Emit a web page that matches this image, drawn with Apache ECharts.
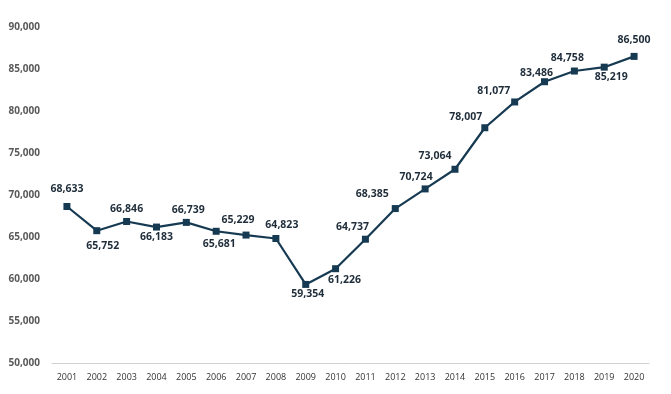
<!DOCTYPE html>
<html><head><meta charset="utf-8">
<script src="https://cdn.jsdelivr.net/npm/echarts@6/dist/echarts.min.js"></script>
<style>html,body{margin:0;padding:0;background:#fff}#c{width:671px;height:394px}</style>
</head><body><div id="c"></div>
<script>
const years = ['2001','2002','2003','2004','2005','2006','2007','2008','2009','2010','2011','2012','2013','2014','2015','2016','2017','2018','2019','2020'];
const values = [68633,65752,66846,66183,66739,65681,65229,64823,59354,61226,64737,68385,70724,73064,78007,81077,83486,84758,85219,86500];
const yTicks = {min: 50000, max: 90000, interval: 5000};

// label offsets (layout only)
const labelOffsets = [[0,-17],[6,15],[0,-12],[0,10],[2,-12],[3,13],[-8,-15],[6,-13],[2,10],[9,11],[-13,-12],[-23,-15],[-9,-12],[-20,-13],[-19,-11],[-21,-11],[-8,-9],[-7,-13],[7,10],[0,-16]];

const chart = echarts.init(document.getElementById('c'), null, {renderer:'canvas'});
const fmt = v => v.toLocaleString('en-US');
chart.setOption({
  animation:false,
  grid:{left:52,right:22,top:27,bottom:31},
  xAxis:{type:'category',data:years,boundaryGap:true,
    axisLine:{lineStyle:{color:'#d0d0d0',width:1}},axisTick:{show:false},
    axisLabel:{color:'#333333',fontSize:9,fontFamily:'Open Sans',margin:10}},
  yAxis:{type:'value',min:yTicks.min,max:yTicks.max,interval:yTicks.interval,
    splitLine:{show:false},axisLine:{show:false},axisTick:{show:false},
    axisLabel:{color:'#595959',fontSize:10,fontWeight:'bold',fontFamily:'Open Sans',margin:12,formatter:fmt}},
  series:[{type:'line',
    data:values.map((v,i)=>({value:v,label:{offset:labelOffsets[i]}})),
    symbol:'rect',symbolSize:7,
    lineStyle:{color:'#163a52',width:2.2},
    itemStyle:{color:'#163a52'},
    label:{show:true,position:'inside',color:'#1f2d3a',fontSize:10.5,fontWeight:'bold',fontFamily:'Open Sans',
      formatter:p=>fmt(p.value)}
  }]
});
</script></body></html>
